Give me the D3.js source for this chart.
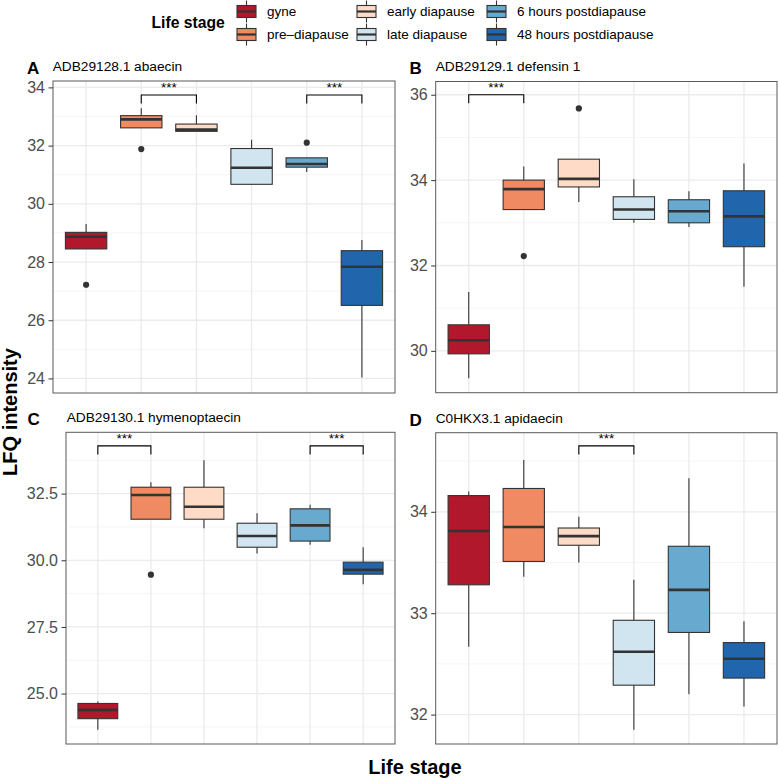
<!DOCTYPE html>
<html><head><meta charset="utf-8">
<script src="https://cdn.jsdelivr.net/npm/d3@7"></script>
<style>
body{margin:0;background:#fff;}
text{font-family:"Liberation Sans",Arial,Helvetica,sans-serif;}
</style></head>
<body><svg id="chart" width="778" height="780"></svg>
<script>
// ---------------- data ----------------
const stages = ["gyne","pre\u2013diapause","early diapause","late diapause","6 hours postdiapause","48 hours postdiapause"];
const stageColors = ["#B2182B","#EF8A62","#FDDBC7","#D1E5F0","#67A9CF","#2166AC"];
const panelTags = ["A","B","C","D"];
const panelTitles = ["ADB29128.1 abaecin","ADB29129.1 defensin 1","ADB29130.1 hymenoptaecin","C0HKX3.1 apidaecin"];

// box stats per stage: [whisker low, Q1, median, Q3, whisker high]
const abaecinStats = [
  [28.45,28.45,28.87,29.02,29.31],
  [32.61,32.61,32.90,33.03,33.28],
  [32.49,32.49,32.55,32.74,33.04],
  [30.67,30.67,31.24,31.90,32.20],
  [31.09,31.26,31.37,31.58,31.58],
  [24.03,26.51,27.84,28.39,28.76]
];
const abaecinOutliers = [[27.22],[31.88],[],[],[32.10],[]];
const abaecinBrackets = [[1,2,33.74],[4,5,33.74]];
const abaecinTicks = [24,26,28,30,32,34];

const defensinStats = [
  [29.36,29.93,30.25,30.61,31.38],
  [33.31,33.31,33.79,34.00,34.32],
  [33.49,33.84,34.03,34.49,34.49],
  [33.00,33.08,33.31,33.61,34.02],
  [32.90,33.00,33.27,33.54,33.74],
  [31.50,32.44,33.15,33.75,34.39]
];
const defensinOutliers = [[],[32.22],[35.68],[],[],[]];
const defensinBrackets = [[0,1,36.0]];
const defensinTicks = [30,32,34,36];

const hymenoptaecinStats = [
  [23.64,24.06,24.39,24.63,24.70],
  [31.54,31.54,32.45,32.74,32.93],
  [31.20,31.54,32.01,32.74,33.75],
  [30.25,30.49,30.91,31.39,31.76],
  [30.58,30.72,31.31,31.93,32.08],
  [29.10,29.48,29.64,29.93,30.49]
];
const hymenoptaecinOutliers = [[],[29.46],[],[],[],[]];
const hymenoptaecinBrackets = [[0,1,34.29],[4,5,34.29]];
const hymenoptaecinTicks = [25,27.5,30,32.5];

const apidaecinStats = [
  [32.67,33.28,33.81,34.16,34.20],
  [33.36,33.51,33.85,34.23,34.51],
  [33.50,33.67,33.76,33.84,33.95],
  [31.85,32.29,32.62,32.93,33.33],
  [32.20,32.81,33.23,33.66,34.33],
  [32.08,32.36,32.55,32.71,32.92]
];
const apidaecinOutliers = [[],[],[],[],[],[]];
const apidaecinBrackets = [[2,3,34.65]];
const apidaecinTicks = [32,33,34];

const panelDomains = [[23.5,34.22],[29.02,36.31],[23.11,34.80],[31.71,34.78]];

// ---------------- layout ----------------
const svg = d3.select("#chart");
const panels = [
  {stats:abaecinStats, out:abaecinOutliers, br:abaecinBrackets, ticks:abaecinTicks, fmt:d3.format("d"),
   x0:53, x1:395, y0:81, y1:393, titleX:52.7, titleY:71, tagX:27, tagY:74.3},
  {stats:defensinStats, out:defensinOutliers, br:defensinBrackets, ticks:defensinTicks, fmt:d3.format("d"),
   x0:435.7, x1:777, y0:81.5, y1:392.7, titleX:435.7, titleY:71, tagX:409.5, tagY:74.3},
  {stats:hymenoptaecinStats, out:hymenoptaecinOutliers, br:hymenoptaecinBrackets, ticks:hymenoptaecinTicks, fmt:d3.format(".1f"),
   x0:66, x1:395, y0:432.3, y1:744, titleX:66.7, titleY:421.7, tagX:27.5, tagY:425.3},
  {stats:apidaecinStats, out:apidaecinOutliers, br:apidaecinBrackets, ticks:apidaecinTicks, fmt:d3.format("d"),
   x0:435.7, x1:777, y0:432.7, y1:744, titleX:435.7, titleY:422.5, tagX:409.5, tagY:425.8}
];

const darkLine = "#333333";

panels.forEach((p, pi) => {
  const x = d3.scalePoint().domain(stages).range([p.x0, p.x1]).padding(0.6);
  const y = d3.scaleLinear().domain(panelDomains[pi]).range([p.y1, p.y0]);
  const g = svg.append("g");
  const [dlo, dhi] = y.domain();

  // minor gridlines
  const step = p.ticks[1] - p.ticks[0];
  const minors = [];
  for (let i = -1; i < p.ticks.length; i++) {
    const v = p.ticks[0] + (i + 0.5) * step;
    if (v > dlo && v < dhi) minors.push(v);
  }
  g.selectAll(".minor").data(minors).join("line")
    .attr("x1", p.x0).attr("x2", p.x1).attr("y1", d => y(d)).attr("y2", d => y(d))
    .attr("stroke", "#F2F2F2").attr("stroke-width", 0.8);
  g.selectAll(".major").data(p.ticks).join("line")
    .attr("x1", p.x0).attr("x2", p.x1).attr("y1", d => y(d)).attr("y2", d => y(d))
    .attr("stroke", "#EBEBEB").attr("stroke-width", 1.3);
  g.selectAll(".vgrid").data(stages).join("line")
    .attr("x1", d => x(d)).attr("x2", d => x(d)).attr("y1", p.y0).attr("y2", p.y1)
    .attr("stroke", "#EBEBEB").attr("stroke-width", 1.3);

  const bw = x.step() * 0.75;
  // boxes
  stages.forEach((s, i) => {
    const st = p.stats[i];
    const cx = x(s);
    const bg = g.append("g");
    bg.append("line").attr("x1", cx).attr("x2", cx).attr("y1", y(st[3])).attr("y2", y(st[4]))
      .attr("stroke", darkLine).attr("stroke-width", 1.1);
    bg.append("line").attr("x1", cx).attr("x2", cx).attr("y1", y(st[1])).attr("y2", y(st[0]))
      .attr("stroke", darkLine).attr("stroke-width", 1.1);
    bg.append("rect").attr("x", cx - bw/2).attr("width", bw)
      .attr("y", y(st[3])).attr("height", y(st[1]) - y(st[3]))
      .attr("fill", stageColors[i]).attr("stroke", darkLine).attr("stroke-width", 1.1);
    bg.append("line").attr("x1", cx - bw/2).attr("x2", cx + bw/2).attr("y1", y(st[2])).attr("y2", y(st[2]))
      .attr("stroke", darkLine).attr("stroke-width", 2.6);
    bg.selectAll("circle").data(p.out[i]).join("circle")
      .attr("cx", cx).attr("cy", d => y(d)).attr("r", 3.1).attr("fill", darkLine);
  });

  // significance brackets
  p.br.forEach(b => {
    const xa = x(stages[b[0]]), xb = x(stages[b[1]]), yy = y(b[2]);
    g.append("path").attr("d", `M${xa},${yy+8.5}V${yy}H${xb}V${yy+8.5}`)
      .attr("fill", "none").attr("stroke", "#000").attr("stroke-width", 1.1);
    g.append("text").attr("x", (xa+xb)/2).attr("y", yy - 3).attr("text-anchor", "middle")
      .attr("font-size", 13.5).attr("fill", "#000").text("***");
  });

  // border
  g.append("rect").attr("x", p.x0).attr("y", p.y0).attr("width", p.x1 - p.x0).attr("height", p.y1 - p.y0)
    .attr("fill", "none").attr("stroke", "#5a5a5a").attr("stroke-width", 1);

  // y axis
  const ax = g.append("g").attr("transform", `translate(${p.x0},0)`)
    .call(d3.axisLeft(y).tickValues(p.ticks).tickFormat(p.fmt).tickSize(4.5).tickPadding(3.5).tickSizeOuter(0));
  ax.select(".domain").remove();
  ax.selectAll(".tick line").attr("stroke", darkLine).attr("stroke-width", 1);
  ax.selectAll(".tick text").attr("font-size", 16).attr("fill", "#4D4D4D")
    .attr("font-family", "'Liberation Sans',Arial,sans-serif");

  // title and tag
  svg.append("text").attr("x", p.titleX).attr("y", p.titleY).attr("font-size", 13.7).attr("fill", "#000")
    .text(panelTitles[pi]);
  svg.append("text").attr("x", p.tagX).attr("y", p.tagY).attr("font-size", 17).attr("font-weight", "bold")
    .attr("fill", "#000").text(panelTags[pi]);
});

// axis titles
svg.append("text").attr("x", 415).attr("y", 774).attr("text-anchor", "middle")
  .attr("font-size", 20).attr("font-weight", "bold").text("Life stage");
svg.append("text").attr("transform", "translate(16.5,412) rotate(-90)").attr("text-anchor", "middle")
  .attr("font-size", 20).attr("font-weight", "bold").text("LFQ intensity");

// legend
const lg = svg.append("g");
lg.append("text").attr("x", 151.5).attr("y", 28.3).attr("font-size", 15.7).attr("font-weight", "bold").text("Life stage");
const colKeyX = [237, 357, 487];
const rowY = [11.5, 34.5];
stages.forEach((s, i) => {
  const col = Math.floor(i / 2), row = i % 2;
  const kx = colKeyX[col], cy = rowY[row], kw = 19;
  const k = lg.append("g");
  k.append("line").attr("x1", kx + kw/2).attr("x2", kx + kw/2).attr("y1", cy - 11).attr("y2", cy + 11)
    .attr("stroke", darkLine).attr("stroke-width", 1.1);
  k.append("rect").attr("x", kx).attr("y", cy - 6).attr("width", kw).attr("height", 12)
    .attr("fill", stageColors[i]).attr("stroke", darkLine).attr("stroke-width", 1.1);
  k.append("line").attr("x1", kx).attr("x2", kx + kw).attr("y1", cy).attr("y2", cy)
    .attr("stroke", darkLine).attr("stroke-width", 2.2);
  lg.append("text").attr("x", kx + 30).attr("y", cy + 4.8).attr("font-size", 13.5).attr("fill", "#000").text(s);
});
</script>
</body></html>
